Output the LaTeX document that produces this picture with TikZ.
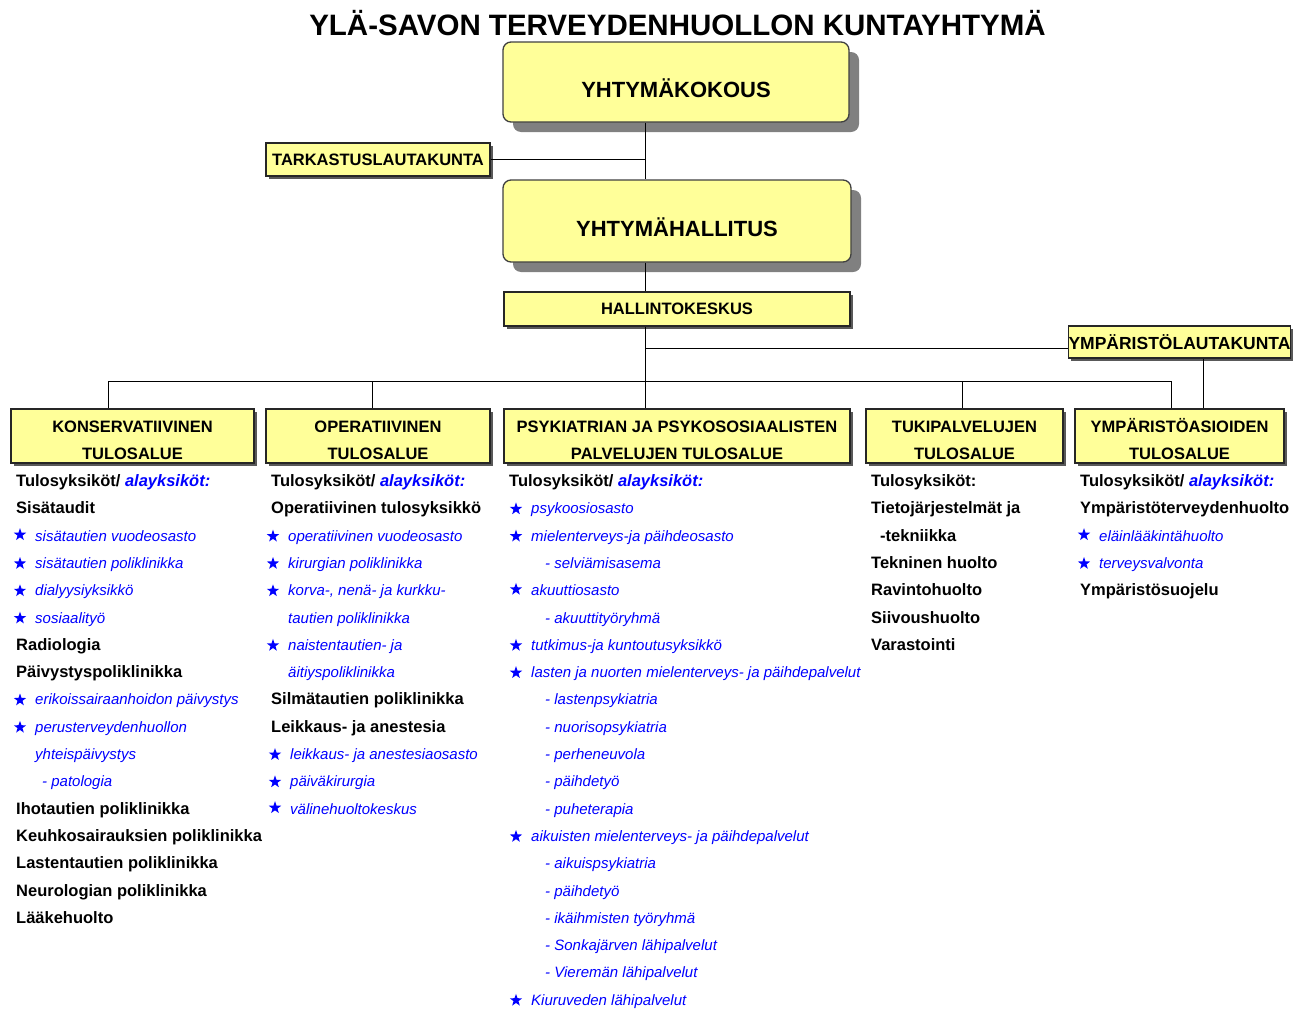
\documentclass[tikz,border=0pt]{standalone}
\usepackage{fontspec}
\setmainfont{Liberation Sans}
\usetikzlibrary{shadows,shapes.geometric}

\definecolor{boxyellow}{RGB}{255,255,153}
\definecolor{listblue}{RGB}{0,0,255}

\tikzset{
  bigbox/.style={draw=black!75, line width=1.3pt, fill=boxyellow, rounded corners=8pt,
    minimum width=346pt, minimum height=80pt, font=\bfseries\fontsize{22}{24}\selectfont,
    text height=30pt, text depth=0pt,
    drop shadow={shadow xshift=10pt, shadow yshift=-10pt, fill=black!50, opacity=1}},
  smallbox/.style={draw=black!85, line width=1.2pt, fill=boxyellow, align=center, inner sep=0pt,
    font=\bfseries\fontsize{16.5}{27}\selectfont,
    drop shadow={shadow xshift=2.5pt, shadow yshift=-2.5pt, fill=black!65, opacity=1}},
  unit/.style={font=\bfseries\fontsize{16.5}{18}\selectfont, inner sep=0pt, anchor=base west},
  sub/.style={font=\itshape\fontsize{15}{17}\selectfont, text=listblue, inner sep=0pt, anchor=base west},
  starmark/.style={star, star points=5, star point ratio=2.5, fill=listblue, draw=none,
    minimum size=13pt, inner sep=0pt, anchor=center},
  starred/.style={sub, append after command={
      node[starmark] at ([xshift=-15pt,yshift=1pt]\tikzlastnode.west) {}}},
}

\newcommand{\alay}{{\color{listblue}\itshape alayksiköt:}}
\newcommand{\lift}{\rule{0pt}{21pt}}

\begin{document}
\begin{tikzpicture}[x=1pt,y=-1pt]
  \useasboundingbox (0,0) rectangle (1307,1009);

  % title
  \node[font=\bfseries\fontsize{29.5}{31}\selectfont] (title) at (677.5,23)
    {YLÄ-SAVON TERVEYDENHUOLLON KUNTAYHTYMÄ};

  % organs
  \node[bigbox] (kokous) at (676,82) {YHTYMÄKOKOUS};
  \node[bigbox, minimum width=348pt, minimum height=82pt] (hallitus) at (677,221) {YHTYMÄHALLITUS};
  \node[smallbox, minimum width=224pt, minimum height=33pt] (tark) at (378,159.5) {TARKASTUSLAUTAKUNTA};
  \node[smallbox, minimum width=346pt, minimum height=34pt] (hallinto) at (677,309) {HALLINTOKESKUS};
  \node[smallbox, minimum width=209pt, minimum height=32pt, font=\bfseries\fontsize{17.5}{20}\selectfont]
    (lauta) at (1179.5,342) {YMPÄRISTÖLAUTAKUNTA};

  % tulosalueet
  \node[smallbox, minimum width=243pt, minimum height=54pt] (kons) at (132.5,436) {\lift KONSERVATIIVINEN\\TULOSALUE};
  \node[smallbox, minimum width=224pt, minimum height=54pt] (oper) at (378,436) {\lift OPERATIIVINEN\\TULOSALUE};
  \node[smallbox, minimum width=346pt, minimum height=54pt] (psyk) at (677,436) {\lift PSYKIATRIAN JA PSYKOSOSIAALISTEN\\PALVELUJEN TULOSALUE};
  \node[smallbox, minimum width=197pt, minimum height=54pt] (tuki) at (964.5,436) {\lift TUKIPALVELUJEN\\TULOSALUE};
  \node[smallbox, minimum width=209pt, minimum height=54pt] (ymp) at (1179.5,436) {\lift YMPÄRISTÖASIOIDEN\\TULOSALUE};

  % connectors
  \coordinate (trunk) at (645,0);
  \coordinate (bus) at (0,381);
  \foreach \dx [count=\k] in {108,372,645,962,1171}
    \coordinate (d\k) at (\dx,381);
  \coordinate (lautain) at ([yshift=-6pt]lauta.west);
  \coordinate (lautaout) at ([xshift=23.5pt]lauta.south);

  \draw (kokous.south -| trunk) -- (hallitus.north -| trunk);
  \draw (tark.east) -- (tark.east -| trunk);
  \draw (hallitus.south -| trunk) -- (hallinto.north -| trunk);
  \draw (hallinto.south -| trunk) -- (trunk |- bus);
  \draw (lautain -| trunk) -- (lautain);
  \draw (lautaout) -- (lautaout |- ymp.north);
  \draw (d1) -- (d5);
  \foreach \k/\area in {1/kons,2/oper,3/psyk,4/tuki,5/ymp}
    \draw (d\k) -- (d\k |- \area.north);

  % konservatiivinen
  \node[unit] (kon0) at (16,486.5) {Tulosyksiköt/ \alay};
  \foreach \xx/\kind/\txt [count=\n] in {
      16/unit/Sisätaudit,
      35/starred/sisätautien vuodeosasto,
      35/starred/sisätautien poliklinikka,
      35/starred/dialyysiyksikkö,
      35/starred/sosiaalityö,
      16/unit/Radiologia,
      16/unit/Päivystyspoliklinikka,
      35/starred/erikoissairaanhoidon päivystys,
      35/starred/perusterveydenhuollon,
      35/sub/yhteispäivystys,
      42/sub/- patologia,
      16/unit/Ihotautien poliklinikka,
      16/unit/Keuhkosairauksien poliklinikka,
      16/unit/Lastentautien poliklinikka,
      16/unit/Neurologian poliklinikka,
      16/unit/Lääkehuolto}
    \node[\kind] (kon\n) at (\xx,{486.5+27.3*\n}) {\txt};

  % operatiivinen
  \node[unit] (ope0) at (271,486.5) {Tulosyksiköt/ \alay};
  \foreach \xx/\kind/\txt [count=\n] in {
      271/unit/Operatiivinen tulosyksikkö,
      288/starred/operatiivinen vuodeosasto,
      288/starred/kirurgian poliklinikka,
      288/starred/{korva-, nenä- ja kurkku-},
      288/sub/tautien poliklinikka,
      288/starred/naistentautien- ja,
      288/sub/äitiyspoliklinikka,
      271/unit/Silmätautien poliklinikka,
      271/unit/Leikkaus- ja anestesia,
      290/starred/leikkaus- ja anestesiaosasto,
      290/starred/päiväkirurgia,
      290/starred/välinehuoltokeskus}
    \node[\kind] (ope\n) at (\xx,{486.5+27.3*\n}) {\txt};

  % psykiatria
  \node[unit] (psy0) at (509,486.5) {Tulosyksiköt/ \alay};
  \foreach \xx/\kind/\txt [count=\n] in {
      531/starred/psykoosiosasto,
      531/starred/mielenterveys-ja päihdeosasto,
      545/sub/- selviämisasema,
      531/starred/akuuttiosasto,
      545/sub/- akuuttityöryhmä,
      531/starred/tutkimus-ja kuntoutusyksikkö,
      531/starred/lasten ja nuorten mielenterveys- ja päihdepalvelut,
      545/sub/- lastenpsykiatria,
      545/sub/- nuorisopsykiatria,
      545/sub/- perheneuvola,
      545/sub/- päihdetyö,
      545/sub/- puheterapia,
      531/starred/aikuisten mielenterveys- ja päihdepalvelut,
      545/sub/- aikuispsykiatria,
      545/sub/- päihdetyö,
      545/sub/- ikäihmisten työryhmä,
      545/sub/- Sonkajärven lähipalvelut,
      545/sub/- Vieremän lähipalvelut,
      531/starred/Kiuruveden lähipalvelut}
    \node[\kind] (psy\n) at (\xx,{486.5+27.3*\n}) {\txt};

  % tukipalvelut
  \node[unit] (tuk0) at (871,486.5) {Tulosyksiköt:};
  \foreach \xx/\kind/\txt [count=\n] in {
      871/unit/Tietojärjestelmät ja,
      880/unit/-tekniikka,
      871/unit/Tekninen huolto,
      871/unit/Ravintohuolto,
      871/unit/Siivoushuolto,
      871/unit/Varastointi}
    \node[\kind] (tuk\n) at (\xx,{486.5+27.3*\n}) {\txt};

  % ympäristöasiat
  \node[unit] (ymp0) at (1080,486.5) {Tulosyksiköt/ \alay};
  \foreach \xx/\kind/\txt [count=\n] in {
      1080/unit/Ympäristöterveydenhuolto,
      1099/starred/eläinlääkintähuolto,
      1099/starred/terveysvalvonta,
      1080/unit/Ympäristösuojelu}
    \node[\kind] (ymt\n) at (\xx,{486.5+27.3*\n}) {\txt};
\end{tikzpicture}
\end{document}
